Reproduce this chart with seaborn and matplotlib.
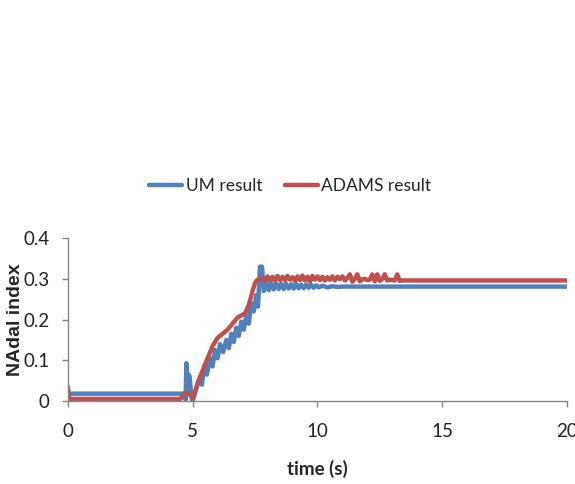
import pandas as pd
import matplotlib
matplotlib.use("Agg")
import matplotlib.pyplot as plt
import seaborn as sns

# UM result (blue)
um_time = [0, 4.70, 4.72, 4.75, 4.78, 4.82, 4.88, 4.95, 5.00, 5.10, 5.20, 5.30, 5.37,
           5.47, 5.57, 5.70, 5.80, 5.90, 6.00, 6.10, 6.22, 6.35, 6.45, 6.55, 6.65,
           6.75, 6.85, 6.95, 7.05, 7.15, 7.25, 7.35, 7.45, 7.55, 7.62, 7.70, 7.78,
           7.85, 7.95, 8.05, 8.15, 8.25, 8.35, 8.45, 8.55, 8.65, 8.75, 8.85, 8.95,
           9.05, 9.15, 9.25, 9.35, 9.45, 9.55, 9.65, 9.75, 9.85, 9.95, 10.05, 10.2,
           10.4, 10.6, 10.8, 11.0, 20.0]
um_value = [0.018, 0.018, 0.002, 0.093, 0.020, 0.066, 0.060, 0.010, 0.000, 0.020, 0.045,
            0.060, 0.040, 0.085, 0.065, 0.105, 0.085, 0.125, 0.105, 0.140, 0.120, 0.150,
            0.130, 0.165, 0.145, 0.180, 0.160, 0.195, 0.175, 0.210, 0.190, 0.240, 0.220,
            0.260, 0.232, 0.330, 0.330, 0.270, 0.292, 0.272, 0.290, 0.274, 0.289, 0.275,
            0.288, 0.275, 0.288, 0.276, 0.287, 0.276, 0.287, 0.277, 0.286, 0.277, 0.286,
            0.278, 0.285, 0.278, 0.284, 0.279, 0.283, 0.279, 0.282, 0.280, 0.281, 0.281]

# ADAMS result (red)
adams_time = [0, 0.05, 0.10, 4.50, 4.60, 4.75, 4.90, 5.00, 5.20, 5.40, 5.60, 5.80, 6.00,
              6.20, 6.40, 6.60, 6.80, 6.95, 7.10, 7.25, 7.40, 7.50, 7.60, 7.70,
              7.8, 7.9, 8.0, 8.1, 8.2, 8.3, 8.4, 8.5, 8.6, 8.7, 8.8, 8.9, 9.0, 9.1,
              9.2, 9.3, 9.4, 9.5, 9.6, 9.7, 9.8, 9.9, 10.0, 10.1, 10.2, 10.3, 10.4,
              10.5, 10.6, 10.7, 10.8, 10.9, 11.0, 11.1, 11.2, 11.3, 11.4, 11.5, 11.6,
              11.7, 11.8, 11.9, 12.0, 12.1, 12.2, 12.3, 12.4, 12.5, 12.6, 12.7, 12.8,
              12.9, 13.0, 13.1, 13.2, 13.3, 13.4, 20.0]
adams_value = [0.035, 0.005, 0.005, 0.005, 0.012, 0.020, 0.015, 0.008, 0.040, 0.075, 0.105,
               0.135, 0.155, 0.165, 0.175, 0.190, 0.205, 0.210, 0.215, 0.235, 0.270, 0.290,
               0.298, 0.300,
               0.300, 0.296, 0.306, 0.297, 0.305, 0.296, 0.307, 0.297, 0.305, 0.296, 0.307,
               0.298, 0.304, 0.295, 0.306, 0.297, 0.308, 0.296, 0.305, 0.293, 0.307, 0.298,
               0.306, 0.297, 0.305, 0.296, 0.304, 0.298, 0.306, 0.296, 0.305, 0.299, 0.306,
               0.296, 0.302, 0.311, 0.293, 0.300, 0.311, 0.294, 0.299, 0.300, 0.297, 0.298,
               0.311, 0.294, 0.311, 0.295, 0.300, 0.311, 0.296, 0.298, 0.297, 0.296, 0.311,
               0.295, 0.296, 0.296]

df = pd.concat([
    pd.DataFrame({"time": um_time, "value": um_value, "series": "UM result"}),
    pd.DataFrame({"time": adams_time, "value": adams_value, "series": "ADAMS result"}),
], ignore_index=True)

sns.set_style("white")
plt.rcParams['font.family'] = ['Lato', 'DejaVu Sans']

fig = plt.figure(figsize=(5.75, 4.84), dpi=100)
ax = fig.add_axes([0.118, 0.1715, 0.868, 0.3365])

sns.lineplot(data=df, x="time", y="value", hue="series", sort=False, estimator=None,
             palette={"UM result": "#4F81BD", "ADAMS result": "#C0504D"},
             linewidth=3.2, ax=ax)

ax.set_xlim(0, 20)
ax.set_ylim(0, 0.4)
ax.set_xticks([0, 5, 10, 15, 20])
ax.set_yticks([0, 0.1, 0.2, 0.3, 0.4])
ax.set_yticklabels(["0", "0.1", "0.2", "0.3", "0.4"])
ax.tick_params(axis="both", direction="out", length=4, width=1, color="#868686",
               labelsize=13.5, left=True, bottom=True, labelcolor="#222222")
ax.tick_params(axis="x", pad=12)
ax.tick_params(axis="y", pad=9)

for side in ["top", "right"]:
    ax.spines[side].set_visible(False)
for side in ["left", "bottom"]:
    ax.spines[side].set_color("#868686")
    ax.spines[side].set_linewidth(1)

ax.set_xlabel("time (s)", fontsize=13.5, fontweight="bold", labelpad=14)
ax.set_ylabel("NAdal index", fontsize=14, fontweight="bold",
              family=["Liberation Sans", "DejaVu Sans"])
ax.yaxis.set_label_coords(-0.088, 0.5)

handles, labels = ax.get_legend_handles_labels()
ax.legend_.remove()
fig.legend(handles, labels, loc="center", bbox_to_anchor=(0.505, 0.616), ncol=2,
           frameon=False, fontsize=12.5, handlelength=1.9, handletextpad=0.2,
           columnspacing=1.3)

fig.savefig("out.png", dpi=100)
